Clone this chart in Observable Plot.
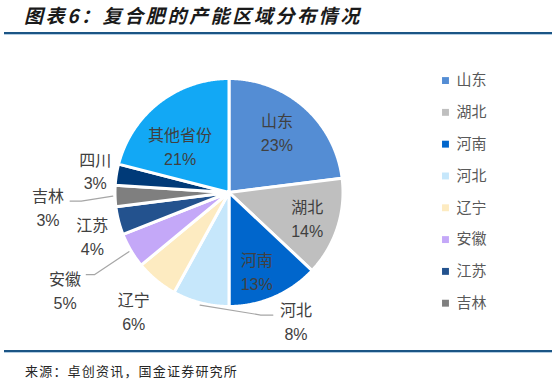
<!DOCTYPE html>
<html>
<head>
<meta charset="utf-8">
<script src="https://cdn.jsdelivr.net/npm/d3@7"></script>
<script src="https://cdn.jsdelivr.net/npm/@observablehq/plot@0.6"></script>
<style>
  html, body { margin: 0; padding: 0; background: #fff; }
  body { width: 556px; height: 383px; position: relative; overflow: hidden;
         font-family: "Liberation Sans", "Noto Sans CJK SC", sans-serif; }
  #title { position: absolute; left: 24px; top: 3px; white-space: nowrap;
           font-family: "Noto Sans CJK SC", sans-serif; font-weight: bold; font-style: italic;
           font-size: 19px; line-height: 24px; letter-spacing: 2.6px; color: #1a1a1a; }
  .rule { position: absolute; left: 4px; width: 548px; height: 2px; background: #1b5585;
          box-shadow: 0 1px 0 #b4cde2; }
  #chart { position: absolute; left: 0; top: 35px; }
  #source { position: absolute; left: 25px; top: 362px; white-space: nowrap;
            font-family: "Noto Sans CJK SC", sans-serif; font-size: 13px; line-height: 18px;
            letter-spacing: 1.2px; color: #262626; }
</style>
</head>
<body>
<div id="title">图表6：复合肥的产能区域分布情况</div>
<div class="rule" style="top:32px"></div>
<div id="chart"></div>
<div class="rule" style="top:350px"></div>
<div id="source">来源：卓创资讯，国金证券研究所</div>
<script>
// ---- data ----
const regions = ["山东", "湖北", "河南", "河北", "辽宁", "安徽", "江苏", "吉林", "四川", "其他省份"];
const shares  = [23, 14, 13, 8, 6, 5, 4, 3, 3, 21];
const sliceColors = ["#548dd4", "#bfbfbf", "#0066cc", "#c6e7fb", "#fdebc1", "#c4a8f8",
                     "#23528e", "#7f7f7f", "#003a78", "#12a8f5"];
const legendRegions = ["山东", "湖北", "河南", "河北", "辽宁", "安徽", "江苏", "吉林"];

// ---- layout (label placement in pie-radius units, relative to pie centre) ----
const labelPos = {
  "山东": [0.42, 0.535], "湖北": [0.686, -0.217], "河南": [0.243, -0.686],
  "河北": [0.588, -1.119], "辽宁": [-0.836, -1.031], "安徽": [-1.438, -0.845],
  "江苏": [-1.199, -0.376], "吉林": [-1.588, -0.119], "四川": [-1.173, 0.199],
  "其他省份": [-0.429, 0.412]
};
const leaders = {  // elbow and end points of leader lines
  "河北": [[0.279, -1.075], [0.385, -1.075]],
  "安徽": [[-1.181, -0.721], [-1.252, -0.721]],
  "吉林": [[-1.296, -0.075], [-1.394, -0.075]]
};
const R = 114, W = 556, H = 315, cx = 228.5, cy = 157;

// ---- geometry from values ----
const total = d3.sum(shares);
let acc = 0;
const slices = regions.map((region, i) => {
  const a0 = acc / total * 2 * Math.PI; acc += shares[i];
  const a1 = acc / total * 2 * Math.PI;
  return {region, share: shares[i], a0, a1, mid: (a0 + a1) / 2};
});
const slicePts = slices.flatMap(s => {
  const n = Math.max(2, Math.ceil((s.a1 - s.a0) / (Math.PI / 360)));
  const pts = [{region: s.region, x: 0, y: 0}];
  for (let k = 0; k <= n; k++) {
    const a = s.a0 + (s.a1 - s.a0) * k / n;
    pts.push({region: s.region, x: Math.sin(a), y: Math.cos(a)});
  }
  return pts;
});
const labels = slices.map(s => ({region: s.region, share: s.share,
  x: labelPos[s.region][0], y: labelPos[s.region][1]}));
const leaderPts = slices.filter(s => leaders[s.region]).flatMap(s => [
  {region: s.region, x: 1.02 * Math.sin(s.mid), y: 1.02 * Math.cos(s.mid)},
  ...leaders[s.region].map(([x, y]) => ({region: s.region, x, y}))
]);
const legendX = 1.899, legendTextX = 1.996, legendY0 = 0.982, legendStep = 0.279;
const legendData = legendRegions.map((region, i) => ({region, y: legendY0 - i * legendStep}));

const chart = Plot.plot({
  width: W, height: H,
  marginTop: 0, marginRight: 0, marginBottom: 0, marginLeft: 0,
  x: {domain: [-cx / R, (W - cx) / R], axis: null},
  y: {domain: [-(H - cy) / R, cy / R], axis: null},
  color: {domain: regions, range: sliceColors},
  style: {fontFamily: "'Liberation Sans', 'Noto Sans CJK SC', sans-serif", background: "#fff"},
  marks: [
    Plot.line(slicePts, {x: "x", y: "y", z: "region", fill: "region", stroke: "white",
      strokeWidth: 3, strokeLinejoin: "round", curve: "linear-closed"}),
    Plot.line(leaderPts, {x: "x", y: "y", z: "region", stroke: "#a6a6a6", strokeWidth: 1.2}),
    Plot.text(labels, {x: "x", y: "y", text: d => `${d.region}\n${d.share}%`,
      fontSize: 16, lineHeight: 1.5, fill: "#404040"}),
    Plot.dot(legendData, {x: () => legendX, y: "y", symbol: "square", r: 3.9, fill: "region"}),
    Plot.text(legendData, {x: () => legendTextX, y: "y", text: "region", textAnchor: "start",
      fontSize: 15, fill: "#595959", style: "letter-spacing:1.5px"})
  ]
});
document.getElementById("chart").appendChild(chart);
</script>
</body>
</html>
